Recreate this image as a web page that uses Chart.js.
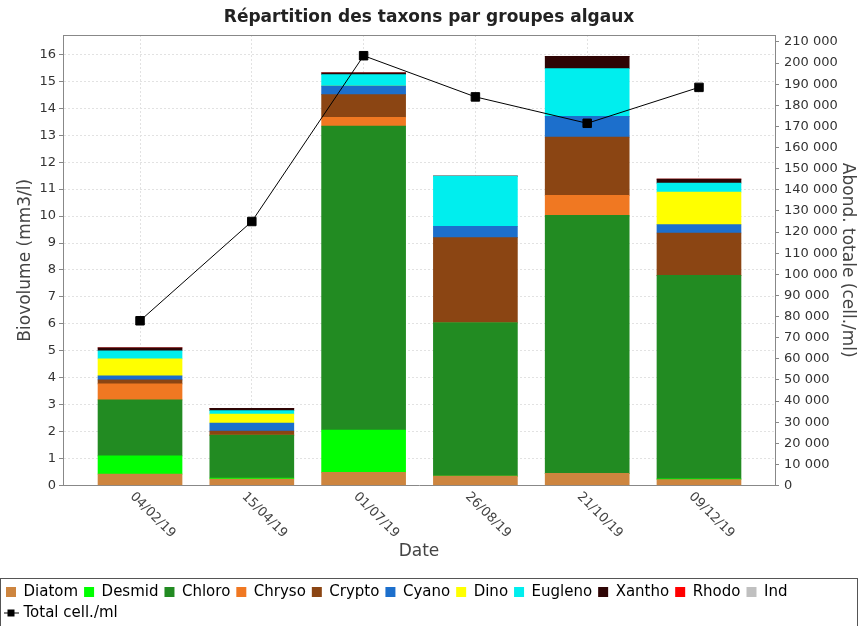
<!DOCTYPE html>
<html>
<head>
<meta charset="utf-8">
<script src="https://cdn.jsdelivr.net/npm/chart.js@4/dist/chart.umd.min.js"></script>
<style>
  body { margin: 0; background: #fff; }
  canvas { display: block; }
</style>
</head>
<body>
<canvas id="chart" width="858" height="626"></canvas>
<script>
// Data (biovolume mm3/l per algal group, one value per sampling date)
const dates = ['04/02/19', '15/04/19', '01/07/19', '26/08/19', '21/10/19', '09/12/19'];
const diatom  = [0.42, 0.24, 0.49, 0.35, 0.45, 0.22];
const desmid  = [0.68, 0.04, 1.57, 0, 0, 0.03];
const chloro  = [2.08, 1.59, 11.28, 5.70, 9.58, 7.55];
const chryso  = [0.59, 0, 0.32, 0, 0.74, 0];
const crypto  = [0.15, 0.15, 0.85, 3.15, 2.16, 1.57];
const cyano   = [0.15, 0.30, 0.31, 0.42, 0.77, 0.31];
const dino    = [0.63, 0.33, 0, 0, 0, 1.21];
const eugleno = [0.30, 0.13, 0.43, 1.86, 1.77, 0.33];
const xantho  = [0.11, 0.08, 0.07, 0, 0.46, 0.15];
const rhodo   = [0, 0, 0, 0, 0, 0];
const ind     = [0, 0, 0, 0, 0, 0];
const totalCells = [78000, 125000, 203500, 184000, 171500, 188500];

const groupNames = ['Diatom', 'Desmid', 'Chloro', 'Chryso', 'Crypto', 'Cyano', 'Dino', 'Eugleno', 'Xantho', 'Rhodo', 'Ind'];
const groupValues = [diatom, desmid, chloro, chryso, crypto, cyano, dino, eugleno, xantho, rhodo, ind];
const groupColors = ['#CD853F', '#00FF00', '#228B22', '#F07822', '#8B4513', '#1C6FCC', '#FFFF00', '#00EEEE', '#2E0505', '#FF0000', '#C0C0C0'];

// axis tick steps
const BIO_STEP = 1;
const CELL_STEP = 10000;

const FONT = 'DejaVu Sans';
Chart.defaults.font.family = FONT;
Chart.defaults.color = '#444';

// small legend icon: line with square marker
const lineIcon = document.createElement('canvas');
lineIcon.width = 15;
lineIcon.height = 11;
(function () {
    const c = lineIcon.getContext('2d');
    c.fillStyle = '#000';
    c.fillRect(0, 5, 15, 1);
    c.fillRect(4, 2, 7, 7);
})();

const datasets = groupNames.map((name, g) => ({
    label: name,
    data: groupValues[g].map((v, i) => ({ x: i, y: v })),
    backgroundColor: groupColors[g],
    borderWidth: 0,
    barThickness: 84,
    yAxisID: 'y',
    order: 0
}));

datasets.push({
    type: 'line',
    label: 'Total cell./ml',
    data: totalCells.map((v, i) => ({ x: i, y: v })),
    borderColor: '#000',
    borderWidth: 1,
    pointStyle: 'rect',
    pointRadius: 6,
    pointBackgroundColor: '#000',
    pointBorderColor: '#000',
    tension: 0,
    yAxisID: 'y2',
    order: -1
});

const thousands = v => String(v).replace(/\B(?=(\d{3})+(?!\d))/g, ' ');

// regular ticks from 0 up to the axis max
function stepTicks(step) {
    return scale => {
        const ticks = [];
        for (let k = 0; k * step <= scale.max; k++) ticks.push({ value: k * step });
        scale.ticks = ticks;
    };
}

const framePlugin = {
    id: 'frame',
    beforeDatasetsDraw(chart) {
        const { ctx, chartArea } = chart;
        ctx.save();
        ctx.strokeStyle = '#888';
        ctx.lineWidth = 1;
        ctx.beginPath();
        ctx.moveTo(chartArea.left, chartArea.top + 0.5);
        ctx.lineTo(chartArea.right, chartArea.top + 0.5);
        ctx.stroke();
        ctx.restore();
    },
    afterDraw(chart) {
        const { ctx } = chart;
        const xs = chart.scales.x;
        // rotated date labels (clockwise)
        ctx.save();
        ctx.font = '13px ' + FONT;
        ctx.fillStyle = '#444';
        ctx.textAlign = 'left';
        ctx.textBaseline = 'middle';
        dates.forEach((d, i) => {
            const px = xs.getPixelForValue(i);
            ctx.save();
            ctx.translate(px - 8, xs.top + 9);
            ctx.rotate(Math.PI / 4);
            ctx.fillText(d, 0, 0);
            ctx.restore();
        });
        ctx.restore();
        // legend frame
        const lg = chart.legend;
        ctx.save();
        ctx.strokeStyle = '#555';
        ctx.lineWidth = 1;
        ctx.strokeRect(0.5, Math.round(lg.top) - 0.5, chart.width - 1, chart.height);
        ctx.restore();
    }
};

new Chart(document.getElementById('chart'), {
    type: 'bar',
    data: { datasets },
    options: {
        responsive: false,
        animation: false,
        layout: { padding: { top: 0, left: 0, right: 0, bottom: -4.5 } },
        plugins: {
            title: {
                display: true,
                text: 'Répartition des taxons par groupes algaux',
                font: { size: 17, weight: 'bold' },
                color: '#222',
                padding: { top: 7, bottom: 7.6 }
            },
            legend: {
                position: 'bottom',
                align: 'start',
                labels: {
                    font: { size: 15 },
                    color: '#000',
                    usePointStyle: true,
                    boxWidth: 10,
                    boxHeight: 10,
                    padding: 6,
                    sort: (a, b) => a.datasetIndex - b.datasetIndex,
                    generateLabels(chart) {
                        const items = Chart.defaults.plugins.legend.labels.generateLabels(chart);
                        items.forEach(it => {
                            it.pointStyle = chart.data.datasets[it.datasetIndex].type === 'line' ? lineIcon : 'rect';
                        });
                        return items;
                    }
                }
            },
            tooltip: { enabled: false }
        },
        scales: {
            x: {
                type: 'linear',
                stacked: true,
                offset: false,
                min: -0.689,
                max: 5.68,
                afterBuildTicks: scale => { scale.ticks = dates.map((d, i) => ({ value: i })); },
                afterFit: scale => { scale.height = 93; },
                ticks: { display: false },
                grid: { color: '#e2e2e2', drawTicks: false, offset: false },
                border: { color: '#888', dash: [2, 2] },
                title: {
                    display: true,
                    text: 'Date',
                    font: { size: 17 },
                    color: '#444',
                    padding: { top: 0, bottom: 16.3 }
                }
            },
            y: {
                position: 'left',
                stacked: true,
                min: 0,
                max: 16.72,
                afterBuildTicks: stepTicks(BIO_STEP),
                afterFit: scale => { scale.width = 63; },
                ticks: { font: { size: 13 }, color: '#333', padding: 3 },
                grid: { color: '#e2e2e2', tickColor: '#888', tickLength: 4 },
                border: { color: '#888', dash: [2, 2] },
                title: {
                    display: true,
                    text: 'Biovolume (mm3/l)',
                    font: { size: 17 },
                    color: '#444',
                    padding: { top: 15, bottom: 0 }
                }
            },
            y2: {
                position: 'right',
                min: 0,
                max: 213300,
                afterBuildTicks: stepTicks(CELL_STEP),
                afterFit: scale => { scale.width = 83; },
                ticks: { font: { size: 13 }, color: '#333', padding: 5, autoSkip: false, callback: v => thousands(v) },
                grid: { drawOnChartArea: false, tickColor: '#888', tickLength: 4 },
                border: { color: '#888' },
                title: {
                    display: true,
                    text: 'Abond. totale (cell./ml)',
                    font: { size: 17 },
                    color: '#444',
                    padding: { top: 0, bottom: 0 }
                }
            }
        }
    },
    plugins: [framePlugin]
});
</script>
</body>
</html>
